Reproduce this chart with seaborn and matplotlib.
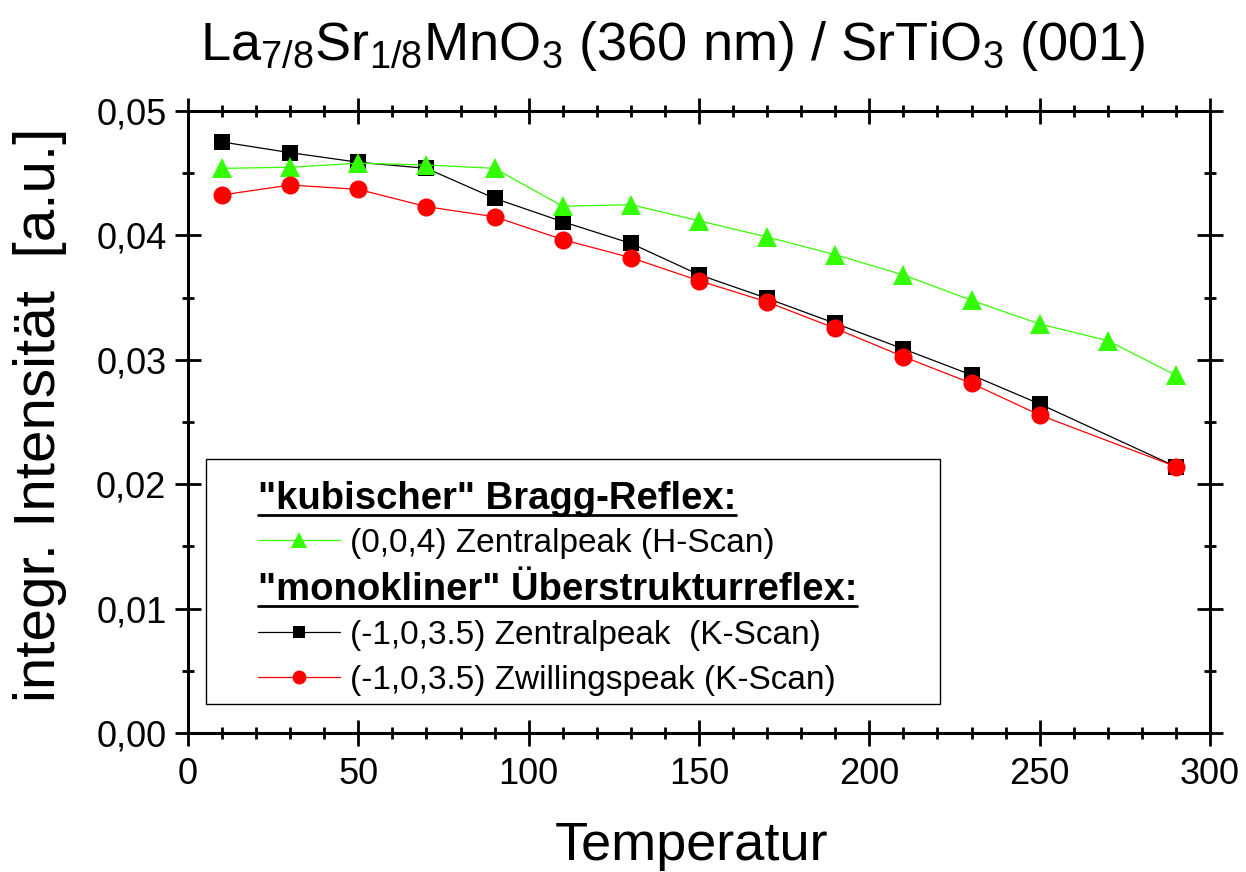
import matplotlib
matplotlib.use("Agg")
import matplotlib.pyplot as plt
import seaborn as sns
import pandas as pd
from matplotlib.ticker import MultipleLocator, FuncFormatter
from matplotlib.patches import Rectangle

# ---- data ----
temp_green = [10, 30, 50, 70, 90, 110, 130, 150, 170, 190, 210, 230, 250, 270, 290]
int_green = [0.04539, 0.04548, 0.0458, 0.04566, 0.04539, 0.04234, 0.04247, 0.04118,
             0.03987, 0.03845, 0.03682, 0.03478, 0.03288, 0.03154, 0.02875]
temp_kscan = [10, 30, 50, 70, 90, 110, 130, 150, 170, 190, 210, 230, 250, 290]
int_black = [0.04751, 0.04665, 0.04588, 0.04539, 0.04298, 0.0411, 0.03936, 0.03684,
             0.03494, 0.03293, 0.03087, 0.02878, 0.02645, 0.02141]
int_red = [0.04325, 0.04405, 0.0437, 0.04231, 0.0415, 0.03966, 0.03821, 0.03636,
           0.03465, 0.03253, 0.03025, 0.02811, 0.02556, 0.02141]

header1 = '"kubischer" Bragg-Reflex:'
label_green = '(0,0,4) Zentralpeak (H-Scan)'
header2 = '"monokliner" Überstrukturreflex:'
label_black = '(-1,0,3.5) Zentralpeak  (K-Scan)'
label_red = '(-1,0,3.5) Zwillingspeak (K-Scan)'

GREEN = '#33ff00'
RED = '#ff0000'
BLACK = '#000000'

sns.set_theme(style="white")
plt.rcParams['font.family'] = ['Liberation Sans', 'DejaVu Sans']
plt.rcParams['mathtext.fontset'] = 'custom'
plt.rcParams['mathtext.rm'] = 'Liberation Sans'
plt.rcParams['mathtext.it'] = 'Liberation Sans'
plt.rcParams['mathtext.bf'] = 'Liberation Sans:bold'
for k in ['text.color', 'axes.labelcolor', 'xtick.color', 'ytick.color']:
    plt.rcParams[k] = 'black'

W, H = 1246, 872
fig = plt.figure(figsize=(W / 100, H / 100), dpi=100)
ax = fig.add_axes([188 / W, (H - 733) / H, 1022 / W, 622 / H])

df_g = pd.DataFrame({'T': temp_green, 'I': int_green})
df_b = pd.DataFrame({'T': temp_kscan, 'I': int_black})
df_r = pd.DataFrame({'T': temp_kscan, 'I': int_red})

sns.lineplot(data=df_b, x='T', y='I', ax=ax, color=BLACK, marker='s', markersize=11,
             markeredgewidth=0, linewidth=0.9, legend=False, zorder=3)
sns.lineplot(data=df_g, x='T', y='I', ax=ax, color=GREEN, marker='^', markersize=15,
             markeredgewidth=0, linewidth=0.9, legend=False, zorder=4)
sns.lineplot(data=df_r, x='T', y='I', ax=ax, color=RED, marker='o', markersize=13,
             markeredgewidth=0, linewidth=0.9, legend=False, zorder=5)

ax.set_xlim(0, 300)
ax.set_ylim(0, 0.05)
ax.set_xlabel('')
ax.set_ylabel('')
ax.xaxis.set_major_locator(MultipleLocator(50))
ax.xaxis.set_minor_locator(MultipleLocator(10))
ax.yaxis.set_major_locator(MultipleLocator(0.01))
ax.yaxis.set_minor_locator(MultipleLocator(0.005))
ax.yaxis.set_major_formatter(FuncFormatter(lambda v, p: f"{v:.2f}".replace('.', ',')))
ax.xaxis.set_major_formatter(FuncFormatter(lambda v, p: f"{v:.0f}"))

for s in ax.spines.values():
    s.set_visible(True)
    s.set_color('black')
    s.set_linewidth(2.2)
ax.tick_params(which='both', direction='inout', top=True, right=True, bottom=True, left=True,
               labeltop=False, labelright=False, color='black', labelcolor='black', width=2.0)
ax.tick_params(which='major', length=19, labelsize=26, pad=6)
ax.tick_params(which='minor', length=9)
ax.tick_params(axis='x', which='major', pad=8)
ax.set_facecolor('white')

# ---- titles / labels ----
fig.text(672 / W, 1 - 60 / H,
         r'La$_{7/8}$Sr$_{1/8}$MnO$_{3}$ (360 nm) / SrTiO$_{3}$ (001)',
         ha='center', va='baseline', fontsize=39)
fig.text(692 / W, 1 - 860 / H, 'Temperatur', ha='center', va='baseline', fontsize=39)
fig.text(40 / W, 1 - 415 / H, 'integr. Intensität  [a.u.]', ha='center', va='center',
         rotation=90, fontsize=42)

# ---- legend (manual, in axes fraction) ----
def ax_y(py):
    return (733 - py) / 622

def ax_x(px):
    return (px - 188) / 1022

box = Rectangle((ax_x(206), ax_y(704)), ax_x(940) - ax_x(206), ax_y(459) - ax_y(704),
                transform=ax.transAxes, facecolor='white', edgecolor='black',
                linewidth=1.0, zorder=6)
ax.add_patch(box)

hx0, hx1, hxm, tx = ax_x(258), ax_x(340), ax_x(299), ax_x(350)
headers = []
for text, base in [(header1, 509), (header2, 600)]:
    t = ax.text(hx0, ax_y(base), text, transform=ax.transAxes, fontsize=27.5,
                fontweight='bold', ha='left', va='baseline', zorder=7)
    headers.append((t, base))

rows = [(label_green, 540, GREEN, '^', 11),
        (label_black, 632, BLACK, 's', 8),
        (label_red, 677, RED, 'o', 10)]
for text, cy, col, mk, ms in rows:
    ax.plot([hx0, hx1], [ax_y(cy), ax_y(cy)], transform=ax.transAxes, color=col,
            linewidth=0.9, zorder=7, clip_on=False)
    ax.plot([hxm], [ax_y(cy)], transform=ax.transAxes, color=col, marker=mk,
            markersize=ms, markeredgewidth=0, zorder=8, clip_on=False)
    ax.text(tx, ax_y(cy + 12), text, transform=ax.transAxes, fontsize=24,
            ha='left', va='baseline', zorder=7)

fig.canvas.draw()
renderer = fig.canvas.get_renderer()
inv = ax.transAxes.inverted()
for t, base in headers:
    bb = t.get_window_extent(renderer)
    x0 = inv.transform((bb.x0, 0))[0]
    x1 = inv.transform((bb.x1, 0))[0]
    ax.plot([x0, x1], [ax_y(base + 6), ax_y(base + 6)], transform=ax.transAxes,
            color='black', linewidth=2.0, zorder=7, clip_on=False)

fig.savefig('out.png', dpi=100, facecolor='white')
